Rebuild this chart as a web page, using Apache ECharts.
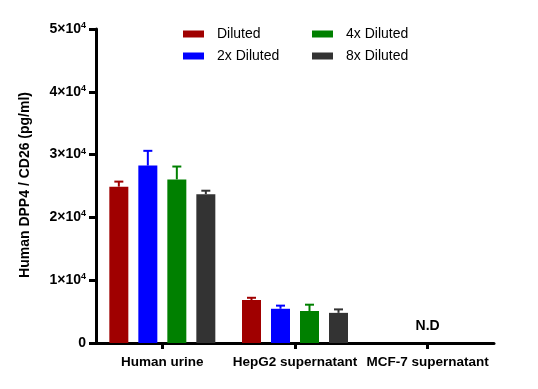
<!DOCTYPE html>
<html><head><meta charset="utf-8">
<script src="https://cdn.jsdelivr.net/npm/echarts@6/dist/echarts.min.js"></script>
<style>html,body{margin:0;padding:0;background:#fff}#c{width:538px;height:389px}</style>
</head><body><div id="c"></div>
<script>
const categories = ['Human urine', 'HepG2 supernatant', 'MCF-7 supernatant'];
const seriesNames = ['Diluted', '2x Diluted', '4x Diluted', '8x Diluted'];
const diluted = [24900, 6850, null];
const diluted2x = [28250, 5450, null];
const diluted4x = [26050, 5100, null];
const diluted8x = [23700, 4800, null];
const errDiluted = [25700, 7200, null];
const err2x = [30600, 5950, null];
const err4x = [28100, 6100, null];
const err8x = [24250, 5350, null];
const yTicks = [0, 10000, 20000, 30000, 40000, 50000];
const ndLabel = ['MCF-7 supernatant', 2700, 'N.D'];

const colors = ['#a00000', '#0000ff', '#008000', '#333333'];
const values = [diluted, diluted2x, diluted4x, diluted8x];
const errs = [errDiluted, err2x, err4x, err8x];
const font = '"Liberation Sans", Arial, sans-serif';
const BW = 19, GAP = 10;

const chart = echarts.init(document.getElementById('c'), null, {renderer: 'canvas'});
const series = [];
values.forEach((v, i) => {
  series.push({
    name: seriesNames[i], type: 'bar', data: v, barWidth: BW, barGap: (GAP / BW * 100) + '%',
    itemStyle: {color: colors[i]}, z: 2
  });
});
values.forEach((v, i) => {
  series.push({
    type: 'custom', silent: true, z: 3,
    data: categories.map((c, k) => [k, v[k], errs[i][k]]).filter(d => d[1] != null),
    encode: {x: 0, y: [1, 2]},
    renderItem: function (params, api) {
      const k = api.value(0);
      const p0 = api.coord([k, api.value(1)]);
      const p1 = api.coord([k, api.value(2)]);
      const x = p0[0] + (i - 1.5) * (BW + GAP);
      return {type: 'group', children: [
        {type: 'line', shape: {x1: x, y1: p0[1], x2: x, y2: p1[1]}, style: {stroke: colors[i], lineWidth: 2}},
        {type: 'line', shape: {x1: x - 4.5, y1: p1[1], x2: x + 4.5, y2: p1[1]}, style: {stroke: colors[i], lineWidth: 2}}
      ]};
    }
  });
});
series.push({
  type: 'scatter', symbolSize: 0, data: [[ndLabel[0], ndLabel[1]]], silent: true,
  itemStyle: {opacity: 1},
  label: {show: true, formatter: ndLabel[2], position: 'inside', color: '#000', opacity: 1, fontWeight: 'bold', fontSize: 14, fontFamily: font}
});

const legendCommon = {
  orient: 'vertical', itemWidth: 21, itemHeight: 7, itemGap: 8, icon: 'rect',
  textStyle: {fontFamily: font, fontSize: 14, color: '#000', padding: [0, 0, 0, 8]},
  selectedMode: false
};

chart.setOption({
  animation: false,
  color: colors,
  grid: {left: 96, right: 44, top: 29, bottom: 46, containLabel: false},
  legend: [
    Object.assign({left: 178, top: 22, data: [seriesNames[0], seriesNames[1]]}, legendCommon),
    Object.assign({left: 307, top: 22, data: [seriesNames[2], seriesNames[3]]}, legendCommon)
  ],
  xAxis: {
    type: 'category', data: categories,
    axisLine: {lineStyle: {color: '#000', width: 3}},
    axisTick: {show: true, alignWithLabel: true, length: 6, lineStyle: {color: '#000', width: 3}},
    axisLabel: {color: '#000', fontWeight: 'bold', fontSize: 13.5, fontFamily: font, margin: 12, interval: 0}
  },
  yAxis: {
    type: 'value', min: yTicks[0], max: yTicks[yTicks.length - 1], interval: yTicks[1] - yTicks[0],
    splitLine: {show: false},
    axisLine: {show: true, lineStyle: {color: '#000', width: 3}},
    axisTick: {show: true, length: 7, lineStyle: {color: '#000', width: 3}},
    axisLabel: {
      margin: 10, color: '#000', fontFamily: font,
      formatter: function (v) { return v === 0 ? '{a|0}' : '{a|' + (v / 10000) + '×10}{b|4}'; },
      rich: {
        a: {fontWeight: 'bold', fontSize: 14, fontFamily: font, color: '#000'},
        b: {fontWeight: 'bold', fontSize: 9, fontFamily: font, color: '#000', verticalAlign: 'top', padding: [0, 0, 7, 0]}
      }
    }
  },
  graphic: [{
    type: 'text', left: 18, top: 92, rotation: Math.PI / 2,
    style: {text: 'Human DPP4 / CD26 (pg/ml)', fontFamily: font, fontWeight: 'bold', fontSize: 14, fill: '#000'}
  }],
  series: series
});
</script></body></html>
